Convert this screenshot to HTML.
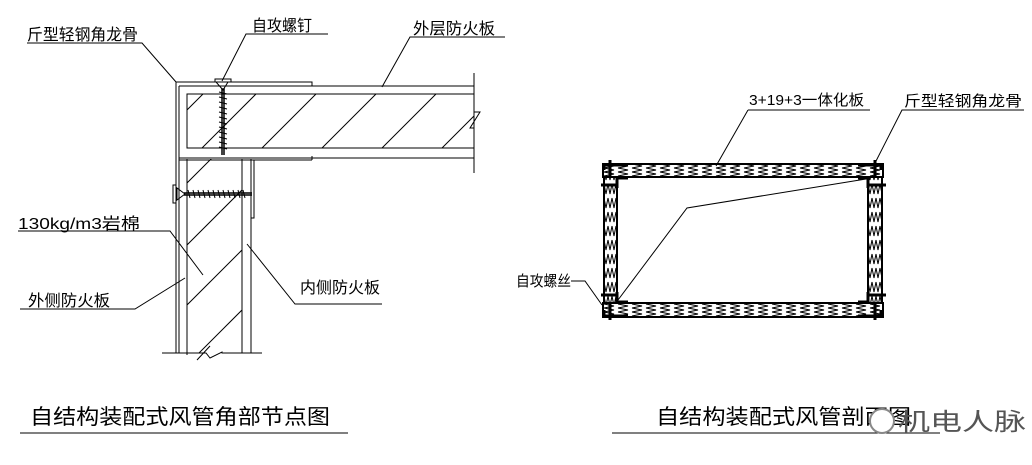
<!DOCTYPE html>
<html><head><meta charset="utf-8"><style>
html,body{margin:0;padding:0;background:#fff;}
svg{display:block}
text{font-family:"Liberation Sans","WenQuanYi Zen Hei","Noto Sans CJK SC",sans-serif;fill:#000}
</style></head><body>
<svg width="1032" height="465" viewBox="0 0 1032 465" xmlns="http://www.w3.org/2000/svg">
<defs>
<pattern id="wv" width="4" height="14" patternUnits="userSpaceOnUse">
<path d="M0,2 L2,12 L4,2" fill="none" stroke="#000" stroke-width="1"/>
</pattern>
<pattern id="wh" width="14" height="4" patternUnits="userSpaceOnUse">
<path d="M2,0 L12,2 L2,4" fill="none" stroke="#000" stroke-width="1"/>
</pattern>
<clipPath id="c1"><rect x="187" y="94" width="287" height="54"/></clipPath>
<clipPath id="c2"><rect x="187" y="159" width="55" height="194"/></clipPath>
</defs>
<g stroke="#000" fill="none" stroke-width="1">
<polyline points="176,353 176,82 312,82 312,86"/>
<line x1="179" y1="86" x2="474" y2="86"/>
<line x1="179" y1="86" x2="179" y2="353"/>
<rect x="187" y="94" width="287" height="54"/>
<line x1="179" y1="158" x2="474" y2="158"/>
<line x1="179" y1="160" x2="312" y2="160"/>
<line x1="312" y1="156" x2="312" y2="160"/>
<polyline points="474,73 474,112 480,112 470,128 474,128 474,173"/>
<g clip-path="url(#c1)">
<line x1="187" y1="110" x2="205" y2="92"/>
<line x1="200" y1="150" x2="260" y2="90"/>
<line x1="260" y1="150" x2="320" y2="90"/>
<line x1="320" y1="150" x2="380" y2="90"/>
<line x1="380" y1="150" x2="440" y2="90"/>
<line x1="440" y1="150" x2="500" y2="90"/>
</g>
<line x1="187" y1="159" x2="187" y2="355"/>
<line x1="242" y1="159" x2="242" y2="353"/>
<line x1="251" y1="159" x2="251" y2="353"/>
<polyline points="254,160 254,218 251,218"/>
<g clip-path="url(#c2)">
<line x1="187" y1="183" x2="212" y2="158"/>
<line x1="187" y1="245" x2="245" y2="187"/>
<line x1="187" y1="305" x2="245" y2="247"/>
<line x1="195" y1="357" x2="245" y2="307"/>
</g>
<polyline points="162,353 206,353 210,358 222,352 222,353 262,353"/>
<line x1="197" y1="360" x2="210" y2="346"/>
<rect x="215" y="79" width="16" height="3" fill="#fff"/>
<path d="M216,82 L228,82 L223,90 Z"/>
<g stroke-width="1.5">
<line x1="222" y1="88" x2="222" y2="155"/>
<line x1="224" y1="88" x2="224" y2="155"/>
</g>
<path d="M219,92 L227,94 M219,97 L227,99 M219,102 L227,104 M219,107 L227,109 M219,112 L227,114 M219,117 L227,119 M219,122 L227,124 M219,127 L227,129 M219,132 L227,134 M219,137 L227,139 M219,142 L227,144 M219,147 L227,149"/>
<rect x="173" y="185" width="3" height="18" fill="#fff"/>
<path d="M177,188 L177,200 L185,194 Z"/>
<g stroke-width="1.5">
<line x1="184" y1="193" x2="252" y2="193"/>
<line x1="184" y1="195" x2="252" y2="195"/>
</g>
<path d="M188,190 L190,198 M193,190 L195,198 M198,190 L200,198 M203,190 L205,198 M208,190 L210,198 M213,190 L215,198 M218,190 L220,198 M223,190 L225,198 M228,190 L230,198 M233,190 L235,198 M238,190 L240,198 M243,190 L245,198"/>
<polyline points="27,43 142,43 176,82"/>
<polyline points="328,34 246,34 222,81"/>
<polyline points="505,37 410,37 382,87"/>
<polyline points="18,231 170,231 203,275"/>
<polyline points="20,309 135,309 185,278"/>
<polyline points="382,304 295,304 247,244"/>
<line x1="20" y1="433" x2="348" y2="433"/>
<line x1="612" y1="433" x2="940" y2="433"/>
<rect x="603" y="164" width="280" height="13" fill="url(#wh)" stroke-width="2"/>
<rect x="603" y="303" width="280" height="14" fill="url(#wh)" stroke-width="2"/>
<rect x="604" y="177" width="13" height="126" fill="url(#wv)" stroke-width="2"/>
<rect x="868" y="177" width="14" height="126" fill="url(#wv)" stroke-width="2"/>
<g stroke-width="3">
<polyline points="617,188 617,178 628,178"/>
<polyline points="868,188 868,178 858,178"/>
<polyline points="617,292 617,302 628,302"/>
<polyline points="868,292 868,302 858,302"/>
<polyline points="604,170 604,165 628,165"/>
<polyline points="881,170 881,165 858,165"/>
<polyline points="604,310 604,316 628,316"/>
<polyline points="881,310 881,316 858,316"/>
<line x1="610" y1="160" x2="610" y2="176"/>
<line x1="875" y1="160" x2="875" y2="176"/>
<line x1="610" y1="304" x2="610" y2="320"/>
<line x1="875" y1="304" x2="875" y2="320"/>
<line x1="601" y1="185" x2="617" y2="185"/>
<line x1="868" y1="185" x2="886" y2="185"/>
<line x1="601" y1="295" x2="617" y2="295"/>
<line x1="868" y1="295" x2="886" y2="295"/>
</g>
<polyline points="748,110 870,110"/>
<line x1="748" y1="110" x2="716" y2="166"/>
<polyline points="1024,110 902,110 874,165"/>
<polyline points="571,281 585,281 602,305"/>
<polyline points="618,300 687,208 866,179"/>
</g>
<g font-size="16">
<text x="27" y="40" textLength="111" lengthAdjust="spacingAndGlyphs">斤型轻钢角龙骨</text>
<text x="252" y="31" textLength="60" lengthAdjust="spacingAndGlyphs">自攻螺钉</text>
<text x="413" y="34" textLength="82" lengthAdjust="spacingAndGlyphs">外层防火板</text>
<text x="18" y="229" textLength="122" lengthAdjust="spacingAndGlyphs">130kg/m3岩棉</text>
<text x="28" y="306" textLength="82" lengthAdjust="spacingAndGlyphs">外侧防火板</text>
<text x="300" y="293" textLength="80" lengthAdjust="spacingAndGlyphs">内侧防火板</text>
<text x="749" y="105" font-size="15" textLength="115" lengthAdjust="spacingAndGlyphs">3+19+3一体化板</text>
<text x="904" y="106" font-size="15" textLength="118" lengthAdjust="spacingAndGlyphs">斤型轻钢角龙骨</text>
<text x="516" y="286" font-size="15" textLength="55" lengthAdjust="spacingAndGlyphs">自攻螺丝</text>
</g>
<text x="30" y="424" font-size="21" textLength="300" lengthAdjust="spacingAndGlyphs">自结构装配式风管角部节点图</text>
<text x="656" y="424" font-size="21" textLength="255" lengthAdjust="spacingAndGlyphs">自结构装配式风管剖面图</text>
<circle cx="882" cy="421" r="12" fill="#fff" stroke="#888" stroke-width="2"/>
<text x="898" y="430" font-size="24" style="fill:#555" textLength="128" lengthAdjust="spacingAndGlyphs">机电人脉</text>
</svg>
</body></html>
